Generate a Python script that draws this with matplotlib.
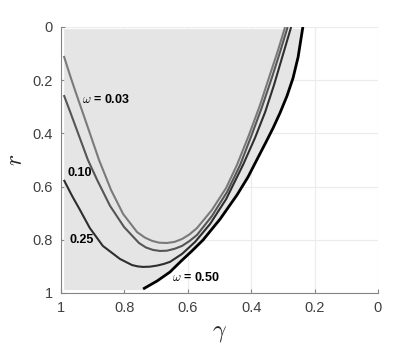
import matplotlib.pyplot as plt

plt.rcParams['font.family'] = ['Liberation Sans', 'DejaVu Sans']
plt.rcParams['mathtext.fontset'] = 'cm'

# curves: gamma (x) and r (y) for each omega
g_003 = [0.991, 0.972, 0.956, 0.918, 0.880, 0.842, 0.804, 0.760, 0.735, 0.713,
         0.690, 0.666, 0.642, 0.618, 0.595, 0.571, 0.524, 0.479, 0.445, 0.407,
         0.372, 0.341, 0.315, 0.293]
r_003 = [0.109, 0.180, 0.237, 0.368, 0.500, 0.613, 0.703, 0.771, 0.792, 0.804,
         0.811, 0.812, 0.808, 0.797, 0.780, 0.756, 0.688, 0.605, 0.519, 0.406,
         0.293, 0.180, 0.086, 0.0]

g_010 = [0.991, 0.972, 0.950, 0.915, 0.886, 0.845, 0.801, 0.754, 0.732, 0.710,
         0.688, 0.666, 0.642, 0.618, 0.595, 0.571, 0.524, 0.476, 0.435, 0.401,
         0.366, 0.334, 0.309, 0.285]
r_010 = [0.256, 0.316, 0.387, 0.500, 0.575, 0.673, 0.752, 0.812, 0.829, 0.838,
         0.842, 0.841, 0.834, 0.823, 0.805, 0.782, 0.711, 0.620, 0.519, 0.414,
         0.301, 0.188, 0.094, 0.0]

g_025 = [0.991, 0.965, 0.940, 0.909, 0.868, 0.814, 0.776, 0.758, 0.741, 0.719,
         0.697, 0.676, 0.656, 0.618, 0.577, 0.530, 0.479, 0.426, 0.388, 0.356,
         0.328, 0.303, 0.274]
r_025 = [0.575, 0.635, 0.688, 0.756, 0.823, 0.872, 0.895, 0.900, 0.902, 0.901,
         0.897, 0.891, 0.883, 0.853, 0.808, 0.741, 0.647, 0.519, 0.417, 0.320,
         0.218, 0.117, 0.0]

g_050 = [0.741, 0.697, 0.656, 0.621, 0.587, 0.552, 0.498, 0.445, 0.410, 0.379,
         0.353, 0.331, 0.309, 0.287, 0.268, 0.252, 0.237]
r_050 = [0.985, 0.955, 0.921, 0.880, 0.842, 0.801, 0.722, 0.632, 0.564, 0.492,
         0.432, 0.380, 0.323, 0.259, 0.192, 0.113, 0.0]

ticks = [0, 0.2, 0.4, 0.6, 0.8, 1]
tick_labels = ['0', '0.2', '0.4', '0.6', '0.8', '1']

fig = plt.figure(figsize=(4.18, 3.49), dpi=100)
ax = fig.add_axes([0.1459, 0.1605, 0.7584, 0.7622])

# shaded feasible region, bounded on the right by the omega = 0.50 curve
fill_x = [0.99] + g_050[::-1] + [g_050[0], 0.99]
fill_y = [0.008] + [max(v, 0.008) for v in r_050[::-1]] + [0.989, 0.989]
ax.fill(fill_x, fill_y, color='#e5e5e5', lw=0, zorder=1)

line_kw = dict(solid_joinstyle='round', solid_capstyle='butt')
ax.plot(g_003, r_003, color='#7a7a7a', lw=1.5, zorder=3, **line_kw)
ax.plot(g_010, r_010, color='#555555', lw=1.5, zorder=3, **line_kw)
ax.plot(g_025, r_025, color='#2e2e2e', lw=1.5, zorder=3, **line_kw)
ax.plot(g_050, r_050, color='black', lw=2.0, zorder=4, **line_kw)

lab = dict(fontsize=9, fontweight='bold', color='black', va='center', ha='left', zorder=5)
ax.text(0.934, 0.271, r'$\omega$ = 0.03', **lab)
ax.text(0.981, 0.549, '0.10', **lab)
ax.text(0.972, 0.800, '0.25', **lab)
ax.text(0.650, 0.940, r'$\omega$ = 0.50', **lab)

ax.set_xlim(1, 0)
ax.set_ylim(1, 0)
ax.set_xticks(ticks)
ax.set_xticklabels(tick_labels)
ax.set_yticks(ticks)
ax.set_yticklabels(tick_labels)

ax.grid(True, color='#ebebeb', lw=0.8)
ax.set_axisbelow(True)
for side in ['top', 'right']:
    ax.spines[side].set_visible(False)
for side in ['left', 'bottom']:
    ax.spines[side].set_color('#858585')
    ax.spines[side].set_linewidth(0.8)
ax.tick_params(direction='in', length=3, width=0.8, color='#858585',
               labelsize=10.5, labelcolor='#404040', pad=6)

ax.set_xlabel(r'$\gamma$', fontsize=17, color='#262626', labelpad=5)
ax.set_ylabel(r'$r$', fontsize=17, color='#262626', labelpad=4)

fig.savefig('out.png', dpi=100)
